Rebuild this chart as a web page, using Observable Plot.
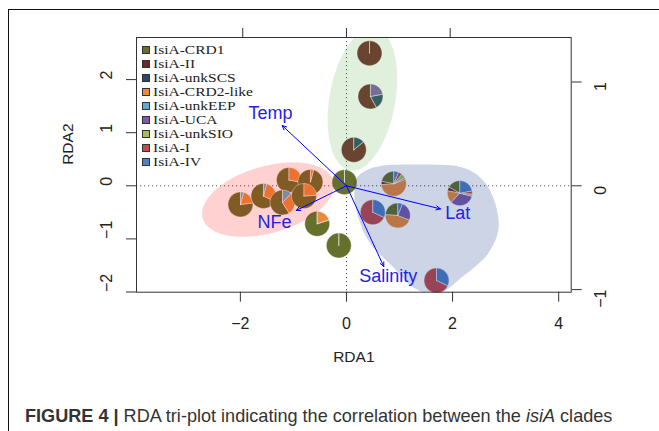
<!DOCTYPE html>
<html><head><meta charset="utf-8">
<script src="https://cdn.jsdelivr.net/npm/d3@7"></script>
<script src="https://cdn.jsdelivr.net/npm/@observablehq/plot@0.6"></script>
<style>
html,body{margin:0;padding:0;background:#fff;}
#wrap{position:relative;width:659px;height:431px;overflow:hidden;background:#fff;}
#border{position:absolute;left:8px;top:9px;width:700px;height:500px;border-left:1.5px solid #111;border-top:1.5px solid #111;}
#chart{position:absolute;left:0;top:0;}
#legend{position:absolute;left:0;top:0;font-family:'Liberation Serif','Times New Roman',serif;font-size:12.6px;line-height:14px;color:#222;}
.row{position:absolute;left:141.7px;height:14px;display:flex;align-items:center;white-space:nowrap;}
.sw{width:6px;height:6px;border:0.8px solid #333;margin-right:3.2px;flex:none;}
.lt{display:inline-block;transform:scaleX(1.23);transform-origin:left center;}
#caption{position:absolute;left:25px;top:406.6px;font-family:'Liberation Sans',Arial,sans-serif;font-size:18.1px;line-height:1;color:#333;white-space:nowrap;}
</style></head>
<body>
<div id="wrap">
  <div id="border"></div>
  <div id="chart"></div>
  <div id="legend"></div>
  <div id="caption"><b>FIGURE 4 |</b> RDA tri-plot indicating the correlation between the <i>isiA</i> clades</div>
</div>
<script>
// ---- data ----
const clades = ["IsiA-CRD1","IsiA-II","IsiA-unkSCS","IsiA-CRD2-like","IsiA-unkEEP","IsiA-UCA","IsiA-unkSIO","IsiA-I","IsiA-IV"];
const cladeColors = ["#65702d","#6b2828","#2c4868","#ea8a3a","#5cadc8","#7b5ba8","#a2bd5a","#bf4b4b","#5080c4"];

// site scores (RDA1, RDA2)
const sampleX = [-1.998,-1.565,-1.084,-0.679,-1.206,-0.801,-0.552,-0.145,-0.038, 0.434,0.452,0.138, 0.892,2.136,0.496,0.967,1.697];
const sampleY = [-0.352,-0.192, 0.109, 0.072,-0.315,-0.192,-0.716,-1.124, 0.068, 2.497,1.682,0.678, 0.038,-0.139,-0.497,-0.559,-1.783];
// relative abundance of clades per sample (order as clades)
const sampleComp = [
  [0.77,0,0,0.19,0.04,0,0,0,0],
  [0.68,0,0,0.28,0.04,0,0,0,0],
  [0.72,0,0,0.28,0,0,0,0,0],
  [0.96,0,0,0.04,0,0,0,0,0],
  [0.59,0,0,0.29,0.12,0,0,0,0],
  [0.76,0,0,0.24,0,0,0,0,0],
  [0.80,0,0,0.20,0,0,0,0,0],
  [1,0,0,0,0,0,0,0,0],
  [1,0,0,0,0,0,0,0,0],
  [0,1,0,0,0,0,0,0,0],
  [0,0.58,0.20,0,0,0.22,0,0,0],
  [0,0.86,0.14,0,0,0,0,0,0],
  [0.22,0.04,0,0.55,0,0.02,0.06,0.05,0.06],
  [0.17,0.05,0,0.16,0,0.33,0.03,0.04,0.22],
  [0,0,0,0,0,0,0,0.68,0.32],
  [0.24,0,0,0.45,0,0.25,0,0,0.06],
  [0,0,0,0,0,0,0,0.68,0.32]
];

// environmental vectors
const envVars = ["Temp","NFe","Lat","Salinity"];
const envX = [-1.212,-0.948,1.772,0.703];
const envY = [1.136,-0.465,-0.435,-1.520];
const envLabelX = [-1.433,-1.357,2.098,0.786];
const envLabelY = [1.362,-0.686,-0.516,-1.702];

// axes
const bottomTicks = [-2,0,2,4];
const leftTicks = [-2,-1,0,1,2];
const leftTickLabels = ["\u22122","\u22121","0","1","2"];
const topTicks = [-1,0,1];
const rightTicks = [-1,0,1];
const rightTickLabels = ["\u22121","0","1"];
const speciesRatio = 1.955;

// cluster hulls
const greenEllipse = {cx:0.30, cy:1.63, a:1.36, b:0.62, angle:80};
const pinkEllipse = {cx:-1.48, cy:-0.26, a:1.28, b:0.63, angle:16};
const blueHullX = [0.19,0.49,1.40,2.26,2.66,2.87,2.68,2.19,1.73,1.30,0.87,0.45,0.23,0.15];
const blueHullY = [0.14,0.34,0.40,0.32,-0.01,-0.75,-1.26,-1.71,-2.03,-1.94,-1.52,-1.09,-0.62,-0.19];

// ---- build geometry ----
const R = 0.235;
const pieRows = [];
sampleX.forEach((cx, p) => {
  const cy = sampleY[p];
  const comp = sampleComp[p];
  const tot = d3.sum(comp);
  let c0 = 0;
  comp.forEach((v, k) => {
    if (v <= 0) return;
    const f = v / tot, c1 = c0 + f;
    const n = Math.max(2, Math.ceil(f * 120));
    const id = p + "-" + k;
    pieRows.push({x: cx, y: cy, slice: id, clade: clades[k]});
    for (let i = 0; i <= n; i++) {
      const t = 2 * Math.PI * (c0 + (c1 - c0) * i / n);
      pieRows.push({x: cx - R * Math.sin(t), y: cy + R * Math.cos(t), slice: id, clade: clades[k]});
    }
    pieRows.push({x: cx, y: cy, slice: id, clade: clades[k]});
    c0 = c1;
  });
});

function ellipsePts(e) {
  const phi = e.angle * Math.PI / 180, pts = [];
  for (let i = 0; i < 120; i++) {
    const t = 2 * Math.PI * i / 120;
    pts.push({x: e.cx + e.a * Math.cos(t) * Math.cos(phi) - e.b * Math.sin(t) * Math.sin(phi),
              y: e.cy + e.a * Math.cos(t) * Math.sin(phi) + e.b * Math.sin(t) * Math.cos(phi)});
  }
  return pts;
}
const bluePts = blueHullX.map((x, i) => ({x, y: blueHullY[i]}));
const envRows = envVars.map((name, i) => ({name, x: envX[i], y: envY[i], lx: envLabelX[i], ly: envLabelY[i]}));

const chart = Plot.plot({
  width: 659, height: 380,
  marginLeft: 136, marginRight: 88.3, marginTop: 37, marginBottom: 88.3,
  x: {domain: [-3.958, 4.236]},
  y: {domain: [-2.004, 2.793]},
  color: {domain: clades, range: cladeColors},
  style: {fontFamily: "'Liberation Sans', Arial, sans-serif", fontSize: "16px", color: "#222", background: "none"},
  marks: [
    Plot.ruleX([0], {stroke: "#555", strokeDasharray: "1.2,2.8", strokeWidth: 1}),
    Plot.ruleY([0], {stroke: "#555", strokeDasharray: "1.2,2.8", strokeWidth: 1}),
    Plot.line(pieRows, {x: "x", y: "y", z: "slice", fill: "clade", stroke: "white", strokeOpacity: 0.7, strokeWidth: 0.7, curve: "linear"}),
    Plot.line(ellipsePts(greenEllipse), {x: "x", y: "y", fill: "rgb(100,180,80)", fillOpacity: 0.2, stroke: "none", curve: "linear-closed", clip: true}),
    Plot.line(ellipsePts(pinkEllipse), {x: "x", y: "y", fill: "rgb(255,0,0)", fillOpacity: 0.18, stroke: "none", curve: "linear-closed", clip: true}),
    Plot.line(bluePts, {x: "x", y: "y", fill: "rgb(0,40,130)", fillOpacity: 0.2, stroke: "none", curve: "catmull-rom-closed", clip: true}),
    Plot.arrow(envRows, {x1: 0, y1: 0, x2: "x", y2: "y", stroke: "#0000ff", strokeWidth: 1, headLength: 7, headAngle: 50}),
    Plot.text(envRows, {x: "lx", y: "ly", text: "name", fill: "#1f1fe6", fontSize: 18}),
    Plot.axisX({anchor: "bottom", ticks: bottomTicks, tickSize: 10, tickPadding: 15, fontSize: 16, label: null, stroke: "#333"}),
    Plot.axisX({anchor: "top", ticks: topTicks.map(v => v * speciesRatio), tickSize: 10, tickFormat: () => "", label: null, stroke: "#333"}),
    Plot.axisY({anchor: "left", ticks: leftTicks, tickSize: 10, tickFormat: () => "", label: null, stroke: "#333"}),
    Plot.axisY({anchor: "right", ticks: rightTicks.map(v => v * speciesRatio), tickSize: 10, tickFormat: () => "", label: null, stroke: "#333"}),
    Plot.text(leftTicks, {y: d => d, text: (d, i) => leftTickLabels[i], frameAnchor: "left", dx: -29.5, rotate: -90, fontSize: 16}),
    Plot.text(rightTicks, {y: d => d * speciesRatio, text: (d, i) => rightTickLabels[i], frameAnchor: "right", dx: 30, rotate: -90, fontSize: 16}),
    Plot.text(["RDA1"], {text: d => d, frameAnchor: "bottom", dy: 70, fontSize: 15.5}),
    Plot.text(["RDA2"], {text: d => d, frameAnchor: "left", dx: -68, rotate: -90, fontSize: 15.5}),
    Plot.frame({stroke: "#333", strokeWidth: 1})
  ]
});
document.getElementById("chart").appendChild(chart);

// legend
const legend = document.getElementById("legend");
clades.forEach((c, i) => {
  const row = document.createElement("div");
  row.className = "row";
  row.style.top = (49.8 + 14.03 * i - 7) + "px";
  const sw = document.createElement("span");
  sw.className = "sw";
  sw.style.background = cladeColors[i];
  row.appendChild(sw);
  const lt = document.createElement("span");
  lt.className = "lt";
  lt.textContent = c;
  row.appendChild(lt);
  legend.appendChild(row);
});
</script>
</body></html>
